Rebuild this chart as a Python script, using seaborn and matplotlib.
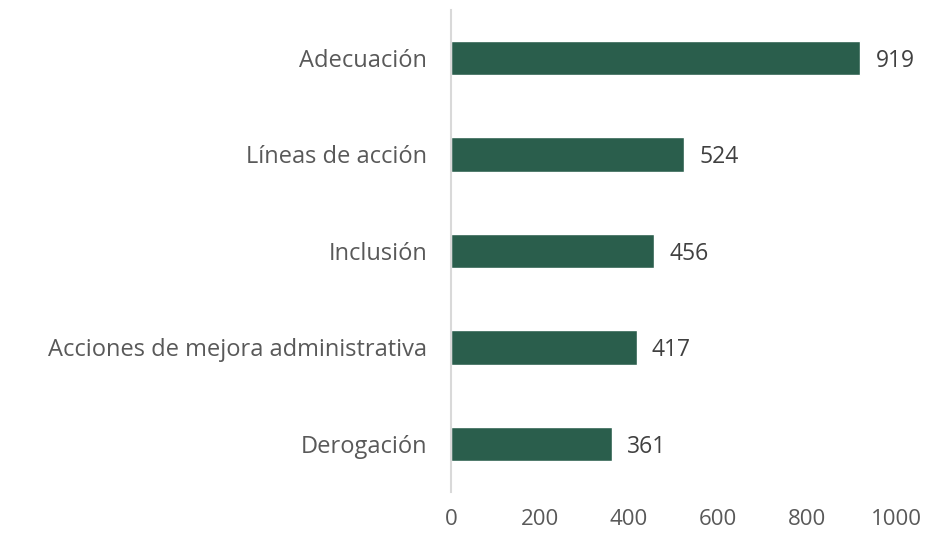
import pandas as pd
import matplotlib.pyplot as plt
import seaborn as sns

# data
categorias = ["Adecuación", "Líneas de acción", "Inclusión",
              "Acciones de mejora administrativa", "Derogación"]
valores = [919, 524, 456, 417, 361]
ticks = [0, 200, 400, 600, 800, 1000]

df = pd.DataFrame({"categoria": categorias, "valor": valores})

sns.set_style("white")
plt.rcParams['font.family'] = ['Open Sans', 'DejaVu Sans']

fig = plt.figure(figsize=(9.26, 5.38), dpi=100)
ax = fig.add_axes([0.487, 0.085, 0.481, 0.897])

sns.barplot(data=df, x="valor", y="categoria", color="#2A5E4C",
            width=0.36, saturation=1, ax=ax)

# value labels
for i, v in enumerate(valores):
    ax.text(v + 34, i + 0.03, str(v), va="center", ha="left",
            fontsize=16.5, color="#404040")

ax.set_xlim(0, 1000)
ax.set_ylim(4.5, -0.5)
ax.set_xticks(ticks)
ax.set_xlabel("")
ax.set_ylabel("")
ax.tick_params(axis="x", length=0, labelsize=16, labelcolor="#595959", pad=12)
ax.tick_params(axis="y", length=0, labelsize=17, labelcolor="#595959", pad=17)

for s in ["top", "right", "bottom"]:
    ax.spines[s].set_visible(False)
ax.spines["left"].set_color("#D9D9D9")
ax.spines["left"].set_linewidth(1.5)

fig.savefig("out.png", dpi=100)
